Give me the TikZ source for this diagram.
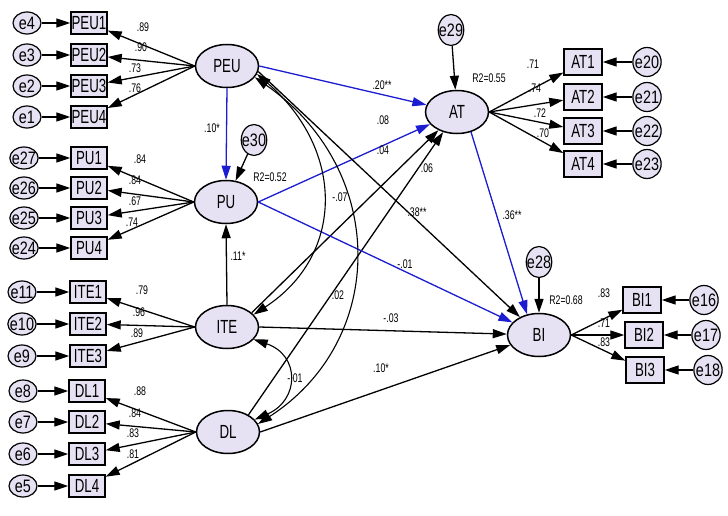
\documentclass[tikz,border=0pt]{standalone}
\usepackage{fontspec}
\setmainfont{Liberation Sans}[FakeStretch=0.7]
\newfontfamily\errfont{Liberation Sans}[FakeStretch=0.8]
\usetikzlibrary{arrows.meta}
\usetikzlibrary{shapes.geometric}

\definecolor{lav}{RGB}{231,226,243}
\definecolor{semblue}{RGB}{28,28,208}

\begin{document}
\begin{tikzpicture}[x=1pt,y=-1pt,
    latent/.style={ellipse,draw,line width=1.5pt,fill=lav,inner sep=0pt,
        minimum width=63pt,minimum height=43pt,font=\fontsize{19}{19}\selectfont},
    item/.style={rectangle,draw,line width=1.4pt,fill=lav,inner sep=0pt,
        minimum width=36pt,minimum height=22pt,font=\fontsize{19}{19}\selectfont},
    bigitem/.style={item,minimum width=38pt,minimum height=26pt},
    err/.style={ellipse,draw,line width=1.2pt,fill=lav,inner xsep=-2pt,inner ysep=1pt,
        minimum width=28pt,minimum height=22pt,font=\errfont\fontsize{18}{18}\selectfont},
    rerr/.style={err,minimum height=29pt},
    verr/.style={err,minimum width=25pt,minimum height=31pt,inner xsep=-3pt},
    arr/.style={-{Triangle[length=14pt,width=9pt]},line width=1.3pt},
    cov/.style={{Triangle[length=14pt,width=9pt]}-{Triangle[length=14pt,width=9pt]},line width=1.1pt},
    lbl/.style={font=\fontsize{12.5}{12.5}\selectfont,inner sep=0pt}
    ]

    \useasboundingbox (0,0) rectangle (728,516);

    % latent variables
    \node[latent] (PEU) at (227,66) {PEU};
    \node[latent] (PU) at (226,202) {PU};
    \node[latent] (ITE) at (227,327) {ITE};
    \node[latent] (DL) at (228,432) {DL};
    \node[latent] (AT) at (457,112) {AT};
    \node[latent] (BI) at (539,335) {BI};

    % residuals of the latent variables
    \node[verr] (e30) at (254,140) {e30};
    \node[verr] (e29) at (451,30) {e29};
    \node[verr] (e28) at (539,262) {e28};

    % left measurement models
    \foreach \i/\e/\y in {1/4/23,2/3/55,3/2/86,4/1/117} {
        \node[item] (PEU\i) at (89,\y) {PEU\i};
        \node[err] (e\e) at (27,\y) {e\e};
        \draw[arr] (e\e) -- (PEU\i);
        \draw[arr] (PEU.west) -- (PEU\i);
    }
    \foreach \i/\e/\y in {1/27/158,2/26/188,3/25/218,4/24/248} {
        \node[item] (PU\i) at (89,\y) {PU\i};
        \node[err] (e\e) at (24,\y) {e\e};
        \draw[arr] (e\e) -- (PU\i);
        \draw[arr] (PU.west) -- (PU\i);
    }
    \foreach \i/\e/\y in {1/11/292,2/10/324,3/9/356} {
        \node[item] (ITE\i) at (88,\y) {ITE\i};
        \node[err] (e\e) at (22,\y) {e\e};
        \draw[arr] (e\e) -- (ITE\i);
        \draw[arr] (ITE.west) -- (ITE\i);
    }
    \foreach \i/\e/\y in {1/8/391,2/7/422,3/6/454,4/5/486} {
        \node[item] (DL\i) at (87,\y) {DL\i};
        \node[err] (e\e) at (23,\y) {e\e};
        \draw[arr] (e\e) -- (DL\i);
        \draw[arr] (DL.west) -- (DL\i);
    }

    % right measurement models
    \foreach \i/\e/\y in {1/20/62,2/21/97,3/22/131,4/23/164} {
        \node[bigitem] (AT\i) at (583,\y) {AT\i};
        \node[rerr] (e\e) at (647,\y) {e\e};
        \draw[arr] (e\e) -- (AT\i);
        \draw[arr] (AT.east) -- (AT\i);
    }
    \foreach \i/\e/\y/\bx/\ex in {1/16/300/642/704,2/17/335/644/706,3/18/370/645/708} {
        \node[bigitem] (BI\i) at (\bx,\y) {BI\i};
        \node[rerr] (e\e) at (\ex,\y) {e\e};
        \draw[arr] (e\e) -- (BI\i);
        \draw[arr] (BI.east) -- (BI\i);
    }

    % loadings
    \foreach \nm/\val/\x/\y in {PEU1/.89/143/27,PEU2/.90/141/47,PEU3/.73/135/68,PEU4/.76/135/88,
        PU1/.84/140/159,PU2/.84/135/180,PU3/.67/135/201,PU4/.74/132/222,
        ITE1/.79/142/290,ITE2/.96/139/312,ITE3/.89/137/333,
        DL1/.88/140/391,DL2/.84/135/413,DL3/.83/133/433,DL4/.81/133/454,
        AT1/.71/533/64,AT2/.74/535/88,AT3/.72/540/113,AT4/.70/543/133,
        BI1/.83/604/293,BI2/.71/604/323,BI3/.83/604/342}
        \node[lbl] (l\nm) at (\x,\y) {\val};

    % structural paths
    \draw[arr] (e30) -- (PU);
    \draw[arr] (e29) -- (AT);
    \draw[arr] (e28) -- (BI);
    \draw[arr,semblue] (PEU.south) -- (PU.north);
    \draw[arr] (ITE.north) -- (PU.south);
    \draw[arr,semblue] (PEU.east) -- (AT);
    \draw[arr,semblue] (PU.east) -- (AT);
    \draw[arr] (ITE.30) -- (AT);
    \draw[arr] (DL.40) -- (AT);
    \draw[arr] (PEU.-10) -- (BI);
    \draw[arr,semblue] (PU.east) -- (BI);
    \draw[arr] (ITE.east) -- (BI);
    \draw[arr] (DL.east) -- (BI);
    \draw[arr,semblue] (AT.-55) -- (BI.120);

    % covariances
    \draw[cov] (PEU.-15) .. controls (345,150) and (345,255) .. (ITE.25);
    \draw[cov] (PEU.-22) .. controls (388,170) and (388,340) .. (DL.15);
    \draw[cov] (ITE.-25) .. controls (300,355) and (300,400) .. (DL.25);

    % path labels
    \node[lbl] (lPEUPU) at (212,128) {.10*};
    \node[lbl] (lITEPU) at (238,256) {.11*};
    \node[lbl] (rPU) at (270,177) {R2=0.52};
    \node[lbl] (lPEUAT) at (382,85) {.20**};
    \node[lbl] (lPUAT) at (383,120) {.08};
    \node[lbl] (lITEAT) at (383,150) {.04};
    \node[lbl] (lDLAT) at (427,168) {.06};
    \node[lbl] (rAT) at (489,78) {R2=0.55};
    \node[lbl] (lPEUBI) at (417,212) {.38**};
    \node[lbl] (lPEUITE) at (340,197) {-.07};
    \node[lbl] (lATBI) at (512,215) {.36**};
    \node[lbl] (lPUBI) at (405,264) {-.01};
    \node[lbl] (lPEUDL) at (338,295) {.02};
    \node[lbl] (lITEBI) at (391,318) {-.03};
    \node[lbl] (lITEDL) at (295,378) {-.01};
    \node[lbl] (lDLBI) at (381,368) {.10*};
    \node[lbl] (rBI) at (566,300) {R2=0.68};

\end{tikzpicture}
\end{document}
